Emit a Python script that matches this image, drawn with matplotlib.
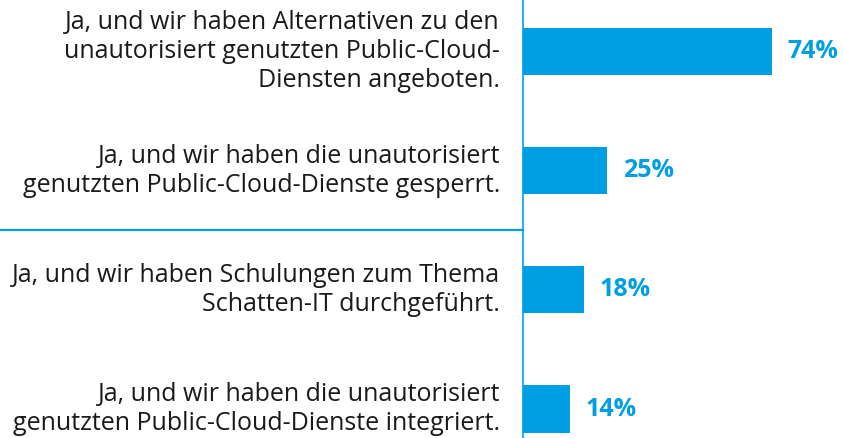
import matplotlib.pyplot as plt

labels = [
    "Ja, und wir haben Alternativen zu den\nunautorisiert genutzten Public-Cloud-\nDiensten angeboten.",
    "Ja, und wir haben die unautorisiert\ngenutzten Public-Cloud-Dienste gesperrt.",
    "Ja, und wir haben Schulungen zum Thema\nSchatten-IT durchgeführt.",
    "Ja, und wir haben die unautorisiert\ngenutzten Public-Cloud-Dienste integriert.",
]
values = [74, 25, 18, 14]

blue = "#009fe3"
text_color = "#1a1a1a"

fig = plt.figure(figsize=(8.43, 4.38), dpi=100)
ax = fig.add_axes([523 / 843, 0, 320 / 843, 1])

pos = list(range(len(values)))
ax.barh(pos, values, height=0.395, color=blue)
ax.set_xlim(0, 95)
ax.set_ylim(3.243, -0.432)

for y, v in zip(pos, values):
    ax.text(v + 4.6, y, f"{v}%", va="center", ha="left", color=blue,
            fontsize=18, fontweight="bold", family="Open Sans")

for y, lab in zip(pos, labels):
    ax.text(-23 / 320, y, lab, transform=ax.get_yaxis_transform(),
            ha="right", va="center", color=text_color, fontsize=18,
            family="Open Sans", linespacing=1.22, clip_on=False)

# separator between the two groups
ax.plot([-523 / 320, 0], [1.5, 1.5], transform=ax.get_yaxis_transform(),
        color=blue, lw=1.6, clip_on=False)

for s in ["top", "right", "bottom"]:
    ax.spines[s].set_visible(False)
ax.spines["left"].set_color(blue)
ax.spines["left"].set_linewidth(1.2)
ax.set_xticks([])
ax.set_yticks([])

fig.savefig("out.png", dpi=100)
